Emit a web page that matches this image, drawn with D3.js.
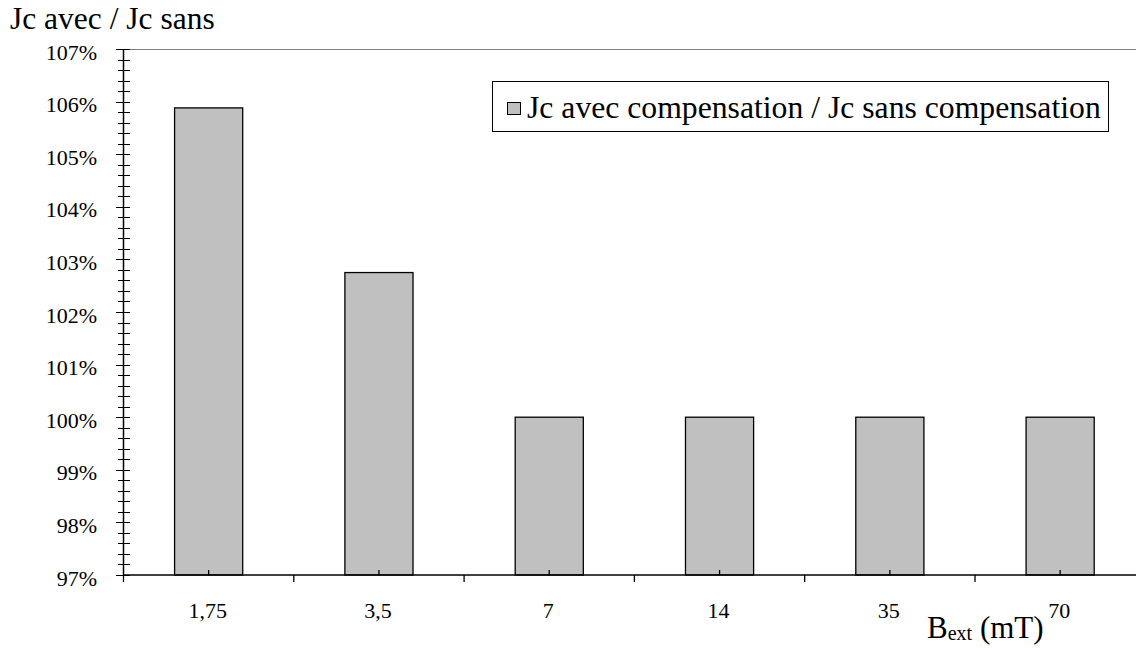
<!DOCTYPE html>
<html><head><meta charset="utf-8">
<script src="https://cdn.jsdelivr.net/npm/d3@7"></script>
<style>body{margin:0;background:#fff;}svg{display:block;}</style>
</head><body>
<svg id="c" width="1136" height="648"></svg>
<script>
const categories = ["1,75","3,5","7","14","35","70"];
const values = [105.88, 102.75, 100.0, 100.0, 100.0, 100.0];
const yTicks = [97,98,99,100,101,102,103,104,105,106,107];
const seriesName = "Jc avec compensation / Jc sans compensation";
const yTitle = "Jc avec / Jc sans";

(function(){
const FONT = "'Liberation Serif'";
const svg = d3.select("#c");
const pLeft = 123.5, pTop = 49, pBottom = 575, step = 170.3;
const x = d3.scaleBand().domain(categories).range([pLeft, pLeft + step*categories.length]).padding(0);
const y = d3.scaleLinear().domain([97,107]).range([pBottom, pTop]);

svg.append("line").attr("x1", pLeft).attr("x2", 1136).attr("y1", pTop+0.5).attr("y2", pTop+0.5)
  .attr("stroke", "#808080").attr("stroke-width", 1);

const bw = x.bandwidth()*0.4;
svg.selectAll("rect.bar").data(categories).enter().append("rect")
  .attr("class","bar")
  .attr("x", d => x(d) + x.bandwidth()/2 - bw/2)
  .attr("y", (d,i) => y(values[i]))
  .attr("width", bw)
  .attr("height", (d,i) => y(97) - y(values[i]))
  .attr("fill", "#c0c0c0").attr("stroke", "#000").attr("stroke-width", 1.3);

const minor = d3.range(0, 51).map(i => 97 + i*0.2);
svg.selectAll("line.yt").data(minor).enter().append("line")
  .attr("x1", (d,i) => i % 5 === 0 ? pLeft-7.5 : pLeft-5.5).attr("x2", pLeft+6.5)
  .attr("y1", d => Math.round(y(d))+0.5).attr("y2", d => Math.round(y(d))+0.5)
  .attr("stroke", "#000").attr("stroke-width", 1);
svg.append("line").attr("x1", pLeft).attr("x2", pLeft).attr("y1", pTop).attr("y2", pBottom)
  .attr("stroke", "#000").attr("stroke-width", 1.5);
svg.selectAll("text.yl").data(yTicks).enter().append("text")
  .attr("x", 97).attr("y", d => y(d) + 10.5)
  .attr("text-anchor", "end").attr("font-size", 22).attr("font-family", FONT).attr("fill", "#000")
  .text(d => d + "%");

svg.append("line").attr("x1", pLeft).attr("x2", 1136).attr("y1", pBottom).attr("y2", pBottom)
  .attr("stroke", "#000").attr("stroke-width", 1.5);
const bounds = categories.map(c => x(c));
svg.selectAll("line.xb").data(bounds).enter().append("line")
  .attr("x1", d => d).attr("x2", d => d).attr("y1", pBottom).attr("y2", pBottom+7)
  .attr("stroke", "#000").attr("stroke-width", 1.3);
svg.selectAll("line.xc").data(categories).enter().append("line")
  .attr("x1", d => x(d)+x.bandwidth()/2).attr("x2", d => x(d)+x.bandwidth()/2)
  .attr("y1", pBottom-5).attr("y2", pBottom)
  .attr("stroke", "#000").attr("stroke-width", 1.3);
svg.selectAll("text.xl").data(categories).enter().append("text")
  .attr("x", d => x(d)+x.bandwidth()/2 - 1).attr("y", 618)
  .attr("text-anchor", "middle").attr("font-size", 22).attr("font-family", FONT).attr("fill", "#000")
  .text(d => d);

svg.append("text").attr("x", 10).attr("y", 28.5).attr("font-size", 31.5).attr("font-family", FONT).attr("fill", "#000").text(yTitle);

const xt = svg.append("text").attr("x", 927).attr("y", 638).attr("font-size", 31).attr("font-family", FONT).attr("fill", "#000");
xt.append("tspan").text("B");
xt.append("tspan").attr("font-size", 20).attr("dy", 2).text("ext");
xt.append("tspan").attr("dy", -2).text(" (mT)");

svg.append("rect").attr("x", 492.5).attr("y", 81.5).attr("width", 616).attr("height", 50)
  .attr("fill", "#fff").attr("stroke", "#000").attr("stroke-width", 1);
svg.append("rect").attr("x", 507.5).attr("y", 102.5).attr("width", 13).attr("height", 12)
  .attr("fill", "#c0c0c0").attr("stroke", "#000").attr("stroke-width", 1);
svg.append("text").attr("x", 527).attr("y", 118).attr("font-size", 31.7).attr("font-family", FONT).attr("fill", "#000").text(seriesName);
})();
</script>
</body></html>
